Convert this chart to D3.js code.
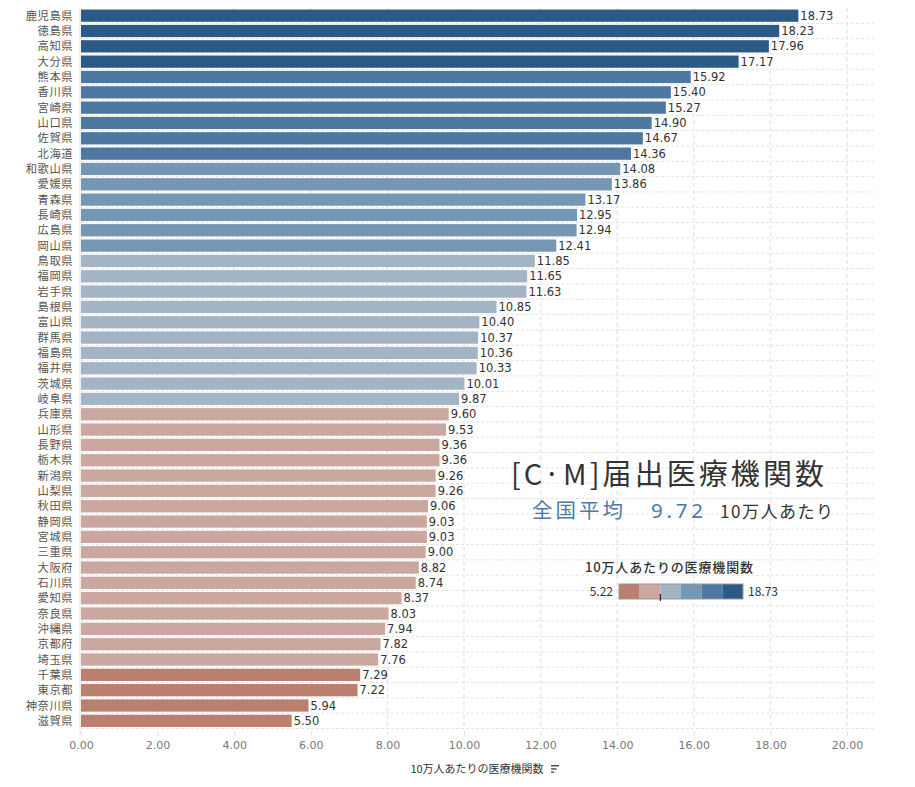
<!DOCTYPE html>
<html><head><meta charset="utf-8">
<script src="https://cdn.jsdelivr.net/npm/d3@7"></script>
<style>body{margin:0;background:#fff;}svg{font-family:"Noto Sans CJK JP","Noto Sans",sans-serif;}</style>
</head><body><svg id="c" width="915" height="787"></svg>
<script>
const prefectures = ["鹿児島県","徳島県","高知県","大分県","熊本県","香川県","宮崎県","山口県","佐賀県","北海道","和歌山県","愛媛県","青森県","長崎県","広島県","岡山県","鳥取県","福岡県","岩手県","島根県","富山県","群馬県","福島県","福井県","茨城県","岐阜県","兵庫県","山形県","長野県","栃木県","新潟県","山梨県","秋田県","静岡県","宮城県","三重県","大阪府","石川県","愛知県","奈良県","沖縄県","京都府","埼玉県","千葉県","東京都","神奈川県","滋賀県"];
const values = [18.73,18.23,17.96,17.17,15.92,15.40,15.27,14.90,14.67,14.36,14.08,13.86,13.17,12.95,12.94,12.41,11.85,11.65,11.63,10.85,10.40,10.37,10.36,10.33,10.01,9.87,9.60,9.53,9.36,9.36,9.26,9.26,9.06,9.03,9.03,9.00,8.82,8.74,8.37,8.03,7.94,7.82,7.76,7.29,7.22,5.94,5.50];
const xTicks = [0,2,4,6,8,10,12,14,16,18,20];
const colorSteps = ["#b9806f","#caa8a0","#a3b4c4","#7697b4","#4e78a1","#2c5a87"];
const legendMin = 5.22, legendMax = 18.73, nationalAvg = 9.72;

(function(){
const svg = d3.select("#c");
const pLeft = 81, pRight = 875, pTop = 8, rowStep = 15.33;
const x = d3.scaleLinear().domain([0,20]).range([pLeft, 847]);
const y = d3.scaleBand().domain(prefectures).range([pTop, pTop + rowStep*prefectures.length]).paddingInner(0.2).paddingOuter(0.1);
const bw = (legendMax-legendMin)/colorSteps.length;
const color = d3.scaleQuantize().domain([legendMin, legendMax]).range(colorSteps);

const g = svg.append("g");
const pBottom = pTop + rowStep*prefectures.length;
prefectures.forEach((p,i)=>{
  g.append("line").attr("x1",pLeft).attr("x2",pRight)
   .attr("y1",pTop+rowStep*(i+1)).attr("y2",pTop+rowStep*(i+1))
   .attr("stroke","#e4e4e4").attr("stroke-dasharray","3,2");
});
xTicks.slice(1).forEach(t=>{
  g.append("line").attr("x1",x(t)).attr("x2",x(t)).attr("y1",pTop).attr("y2",pBottom)
   .attr("stroke","#e8e8e8").attr("stroke-dasharray","4,3").attr("stroke-width",1.5);
});

svg.append("g").selectAll("rect").data(prefectures).join("rect")
  .attr("x", x(0)).attr("y", p=>y(p)).attr("height", y.bandwidth())
  .attr("width",(p,i)=>x(values[i])-x(0))
  .attr("fill",(p,i)=>color(values[i]));
svg.append("g").selectAll("text").data(prefectures).join("text")
  .attr("x",(p,i)=>x(values[i])+2).attr("y",p=>y(p)+y.bandwidth()/2).attr("dy","0.36em")
  .attr("font-family","'DejaVu Sans',sans-serif")
  .attr("font-size",11.5).attr("fill","#333").text((p,i)=>values[i].toFixed(2));

svg.append("g").selectAll("text").data(prefectures).join("text")
  .attr("x",73).attr("y",p=>y(p)+y.bandwidth()/2).attr("dy","0.36em")
  .attr("text-anchor","end").attr("font-size",11.3).attr("letter-spacing",0.5).attr("fill","#555").text(p=>p);

svg.append("line").attr("x1",pLeft-1).attr("x2",pLeft-1).attr("y1",pTop).attr("y2",pBottom+6).attr("stroke","#e0e0e0");
const ax = svg.append("g").attr("transform",`translate(0,${pBottom+3})`)
  .call(d3.axisBottom(x).tickValues(xTicks).tickFormat(d3.format(".2f")).tickSize(4));
ax.select(".domain").remove();
ax.selectAll("line").attr("stroke","#ddd");
ax.selectAll("text").attr("fill","#777").attr("font-size",11).attr("font-family","'DejaVu Sans',sans-serif").attr("dy","0.95em");
svg.append("text").attr("x",477).attr("y",773).attr("text-anchor","middle").attr("font-size",11).attr("fill","#333").text("10万人あたりの医療機関数");
[0,1,2].forEach(i=>svg.append("rect").attr("x",551).attr("y",765+i*3.2).attr("width",8-i*2.5).attr("height",1.5).attr("fill","#555"));

svg.append("text").attr("x",511).attr("y",484.5).attr("font-size",29).attr("fill","#333")
  .attr("textLength",313).attr("lengthAdjust","spacing").text("[C·M]届出医療機関数");
svg.append("text").attr("x",532).attr("y",517.5).attr("font-size",20.5).attr("fill","#4e79a7")
  .attr("textLength",91).attr("lengthAdjust","spacing").text("全国平均");
svg.append("text").attr("x",651).attr("y",517.5).attr("font-size",20.5).attr("font-family","'Noto Sans',sans-serif").attr("fill","#4e79a7")
  .attr("textLength",52).attr("lengthAdjust","spacing").text(nationalAvg.toFixed(2));
svg.append("text").attr("x",720).attr("y",517.5).attr("font-size",17).attr("fill","#333")
  .attr("textLength",113).attr("lengthAdjust","spacing").text("10万人あたり");

svg.append("text").attr("x",585).attr("y",572).attr("font-size",13).attr("fill","#333").attr("font-weight",500)
  .attr("textLength",168).attr("lengthAdjust","spacing").text("10万人あたりの医療機関数");
const lx = d3.scaleLinear().domain([legendMin,legendMax]).range([619,743]);
colorSteps.forEach((c,i)=>{
  svg.append("rect").attr("x",lx(legendMin+i*bw)).attr("y",584).attr("width",lx(legendMin+(i+1)*bw)-lx(legendMin+i*bw)).attr("height",15).attr("fill",c);
});
svg.append("rect").attr("x",619).attr("y",584).attr("width",124).attr("height",15).attr("fill","none").attr("stroke","#999");
svg.append("line").attr("x1",lx(nationalAvg)).attr("x2",lx(nationalAvg)).attr("y1",594).attr("y2",601).attr("stroke","#000");
svg.append("text").attr("x",613).attr("y",596).attr("text-anchor","end").attr("font-size",12).attr("fill","#333").text(legendMin.toFixed(2));
svg.append("text").attr("x",748).attr("y",596).attr("font-size",12).attr("fill","#333").text(legendMax.toFixed(2));
})();
</script></body></html>
